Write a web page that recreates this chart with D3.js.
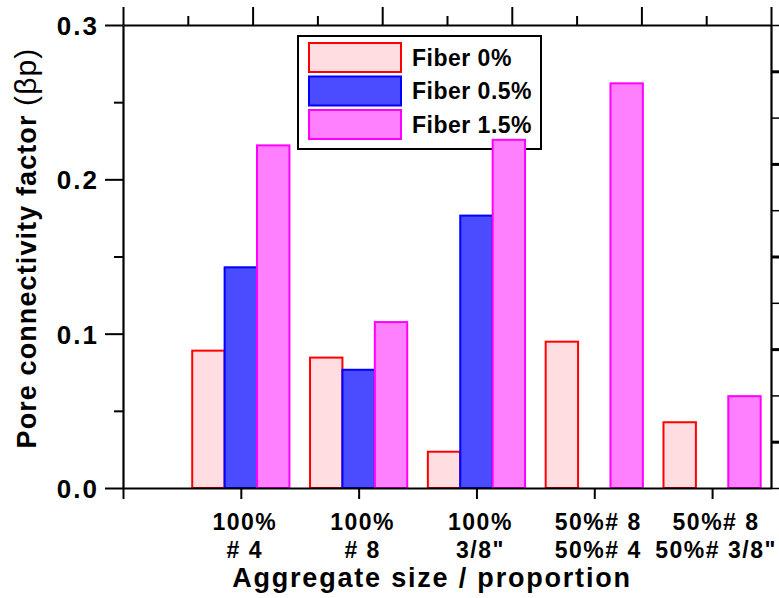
<!DOCTYPE html>
<html>
<head>
<meta charset="utf-8">
<script src="https://cdn.jsdelivr.net/npm/d3@7"></script>
<style>
  body { margin: 0; background: #fff; }
  svg text { font-family: "Liberation Sans", Arial, sans-serif; font-weight: bold; fill: #000; }
</style>
</head>
<body>
<div id="chart"></div>
<script>
var categories = [
  ["100%", "# 4"],
  ["100%", "# 8"],
  ["100%", "3/8\""],
  ["50%# 8", "50%# 4"],
  ["50%# 8", "50%# 3/8\""]
];
var seriesNames = ["Fiber 0%", "Fiber 0.5%", "Fiber 1.5%"];
var fiber0 = [0.089, 0.0845, 0.0235, 0.0948, 0.0426];
var fiber05 = [0.143, 0.0766, 0.1765, 0, 0];
var fiber15 = [0.222, 0.1075, 0.2256, 0.2622, 0.0595];
var yTicks = [0, 0.1, 0.2, 0.3];
var yMinor = [0.05, 0.15, 0.25];

var fills = ["#ffdde0", "#4b4bff", "#ff80ff"];
var strokes = ["#ff0000", "#0000ff", "#ff00ff"];
var series = [fiber0, fiber05, fiber15];

var W = 779, H = 598;
var plotL = 123, plotR = 771, plotT = 25, plotB = 488;

var svg = d3.select("#chart").append("svg")
  .attr("width", W).attr("height", H);

var x = d3.scaleLinear().domain([0, 5.5]).range([plotL, plotR]);
var xTop = d3.scaleLinear().domain([0, 5]).range([plotL, plotR]);
var y = d3.scaleLinear().domain([0, 0.3]).range([plotB, plotT]);
var yRight = d3.scaleLinear().domain([0, 10]).range([plotB, plotT]);
var barW = x(0.275) - x(0);

// legend first, bars overlap it
var legend = svg.append("g");
legend.append("rect")
  .attr("x", 298).attr("y", 36).attr("width", 243).attr("height", 113)
  .attr("fill", "#fff").attr("stroke", "#000").attr("stroke-width", 2);
seriesNames.forEach(function (name, i) {
  legend.append("rect")
    .attr("x", 309).attr("y", 43 + i * 33.5).attr("width", 92).attr("height", 29)
    .attr("fill", fills[i]).attr("stroke", strokes[i]).attr("stroke-width", 2);
  legend.append("text")
    .attr("x", 412).attr("y", 65.5 + i * 33.5)
    .attr("font-size", 23).style("letter-spacing", "0.5px")
    .text(name);
});

// bars
series.forEach(function (vals, s) {
  svg.append("g").selectAll("rect")
    .data(vals)
    .enter().append("rect")
    .filter(function (d) { return d > 0; })
    .attr("x", function (d, i) { return x(i + 1) + (s - 1.5) * barW; })
    .attr("y", function (d) { return y(d); })
    .attr("width", barW)
    .attr("height", function (d) { return y(0) - y(d); })
    .attr("fill", fills[s])
    .attr("stroke", strokes[s])
    .attr("stroke-width", 2);
});

function styleAxis(g) {
  g.select(".domain").attr("stroke-width", 2.2);
  g.selectAll(".tick line").attr("stroke-width", 2);
}

// left axis
var gl = svg.append("g").attr("transform", "translate(" + plotL + ",0)")
  .call(d3.axisLeft(y).tickValues(yTicks).tickSize(18).tickSizeOuter(0).tickPadding(6)
    .tickFormat(d3.format(".1f")));
styleAxis(gl);
gl.selectAll("text").attr("font-size", 26).style("letter-spacing", "2px")
  .attr("font-family", null).attr("dy", "0.36em").attr("x", -24);
svg.append("g").attr("transform", "translate(" + plotL + ",0)")
  .call(d3.axisLeft(y).tickValues(yMinor).tickSize(9).tickSizeOuter(0).tickFormat(""))
  .call(function (g) { g.select(".domain").remove(); g.selectAll("line").attr("stroke-width", 2); });

// bottom axis
var gb = svg.append("g").attr("transform", "translate(0," + plotB + ")")
  .call(d3.axisBottom(x).tickValues([0, 1, 2, 3, 4, 5]).tickSize(11).tickSizeOuter(0).tickFormat(""));
styleAxis(gb);

categories.forEach(function (lines, i) {
  lines.forEach(function (t, k) {
    svg.append("text")
      .attr("x", x(i + 1) + 4).attr("y", 530 + k * 28)
      .attr("text-anchor", "middle")
      .attr("font-size", 23).style("letter-spacing", "1.5px")
      .text(t);
  });
});

// top axis
var gt = svg.append("g").attr("transform", "translate(0," + plotT + ")")
  .call(d3.axisTop(xTop).ticks(5).tickSize(18).tickSizeOuter(0).tickFormat(""));
styleAxis(gt);
svg.append("g").attr("transform", "translate(0," + plotT + ")")
  .call(d3.axisTop(xTop).tickValues([0.5, 1.5, 2.5, 3.5, 4.5]).tickSize(9).tickFormat(""))
  .call(function (g) { g.select(".domain").remove(); g.selectAll("line").attr("stroke-width", 2); });

// right axis
var gr = svg.append("g").attr("transform", "translate(" + plotR + ",0)")
  .call(d3.axisRight(yRight).ticks(10).tickSize(10).tickSizeOuter(0).tickFormat(""));
styleAxis(gr);
gr.selectAll(".tick line").attr("stroke-width", function (d) { return d % 2 ? 3 : 1.5; });

// titles
var yTitle = svg.append("text")
  .attr("transform", "translate(36,248) rotate(-90)")
  .attr("text-anchor", "middle")
  .attr("font-size", 27).style("letter-spacing", "1.1px");
yTitle.append("tspan").text("Pore connectivity factor ");
yTitle.append("tspan").attr("font-weight", "normal").attr("font-size", 30).text("(\u03b2p)");

svg.append("text")
  .attr("x", 432).attr("y", 587)
  .attr("text-anchor", "middle")
  .attr("font-size", 27).style("letter-spacing", "1.8px")
  .text("Aggregate size / proportion");
</script>
</body>
</html>
